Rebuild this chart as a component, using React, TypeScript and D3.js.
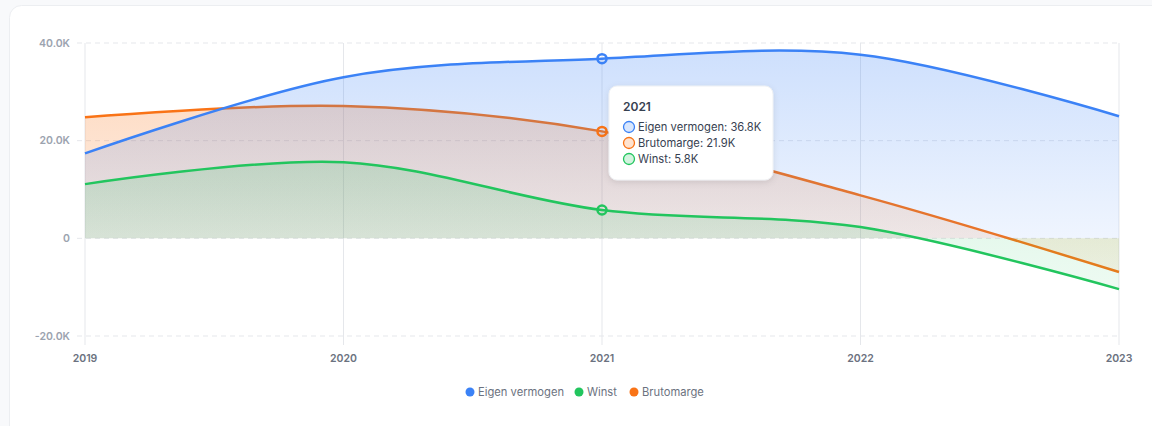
import React from "react";
import * as d3 from "d3";

// DATA
const years = ["2019", "2020", "2021", "2022", "2023"];
const eigenVermogen = [17.4, 33.0, 36.8, 37.6, 25.0];
const brutomarge = [24.8, 27.1, 21.9, 8.8, -6.9];
const winst = [11.1, 15.6, 5.8, 2.3, -10.4];
const yTicks = [-20, 0, 20, 40];

const series = [
  { key: "brutomarge", name: "Brutomarge", values: brutomarge, color: "#f97316", top: 0.24 },
  { key: "eigen", name: "Eigen vermogen", values: eigenVermogen, color: "#3b82f6", top: 0.25 },
  { key: "winst", name: "Winst", values: winst, color: "#22c55e", top: 0.17 },
];
const legendOrder = ["eigen", "winst", "brutomarge"];
const tooltipOrder = ["eigen", "brutomarge", "winst"];
const activeIndex = 2;

const W = 1152;
const H = 426;
const FONT = "Inter, 'Noto Sans', sans-serif";

export default function App() {
  // SCALES
  const x = d3.scalePoint().domain(years).range([85, 1119]);
  const y = d3.scaleLinear().domain([-20, 40]).range([336, 43]);

  const fmt = (v: number) => (v === 0 ? "0" : `${v.toFixed(1)}K`);
  const curve = d3.curveCardinal.tension(0);

  const area = (vals: number[]) =>
    d3
      .area<number>()
      .x((_, i) => x(years[i])!)
      .y0(y(0))
      .y1((d) => y(d))
      .curve(curve)(vals)!;

  const line = (vals: number[]) =>
    d3
      .line<number>()
      .x((_, i) => x(years[i])!)
      .y((d) => y(d))
      .curve(curve)(vals)!;

  const byKey = (k: string) => series.find((s) => s.key === k)!;

  // LEGEND LAYOUT
  const legendItems = legendOrder.map((k) => byKey(k));
  const textW = (s: string) => s.length * 6.0;
  const itemW = legendItems.map((s) => 13 + textW(s.name) + 12);
  const totalW = d3.sum(itemW) - 12;
  let lx = 583.5 - totalW / 2;

  const ax = x(years[activeIndex])!;

  return (
    <div style={{ position: "absolute", left: 0, top: 0, width: W, height: H, background: "#f8f9fb" }}>
      <svg width={W} height={H} style={{ display: "block", fontFamily: FONT }}>
        <defs>
          {series.map((s) => (
            <linearGradient key={s.key} id={`g-${s.key}`} x1="0" y1="0" x2="0" y2="1">
              <stop offset="0%" stopColor={s.color} stopOpacity={s.top} />
              <stop offset="100%" stopColor={s.color} stopOpacity={0.08} />
            </linearGradient>
          ))}
          <filter id="shadow" x="-20%" y="-20%" width="140%" height="150%">
            <feDropShadow dx="0" dy="2" stdDeviation="3" floodColor="#000" floodOpacity="0.1" />
          </filter>
        </defs>

        {/* CARD */}
        <rect x={9.5} y={5.5} width={1160} height={440} rx={12} fill="#fff" stroke="#eceef1" />

        {/* Y GRID */}
        {yTicks.map((t) => (
          <g key={t}>
            <line x1={77} x2={1119} y1={y(t)} y2={y(t)} stroke="#e5e7eb" strokeDasharray="5 4" />
            <text x={70} y={y(t)} dy="0.35em" textAnchor="end" fontSize={10.5} fontWeight={600} fill="#9ca3af">
              {fmt(t)}
            </text>
          </g>
        ))}

        {/* X GRID */}
        {years.map((yr) => (
          <g key={yr}>
            <line x1={x(yr)} x2={x(yr)} y1={43} y2={345} stroke="#e5e7eb" />
            <text x={x(yr)} y={358} dy="0.35em" textAnchor="middle" fontSize={10.5} fontWeight={600} fill="#6b7280">
              {yr}
            </text>
          </g>
        ))}

        {/* AREAS */}
        {series.map((s) => (
          <g key={s.key}>
            <path d={area(s.values)} fill={`url(#g-${s.key})`} />
            <path d={line(s.values)} fill="none" stroke={s.color} strokeWidth={2.5} />
          </g>
        ))}

        {/* ACTIVE DOTS */}
        {series.map((s) => (
          <circle key={s.key} cx={ax} cy={y(s.values[activeIndex])} r={4.5} fill="none" stroke={s.color} strokeWidth={2.5} />
        ))}

        {/* TOOLTIP */}
        <g transform="translate(609,86)">
          <rect width={164} height={94} rx={8} fill="#fff" stroke="#eef0f3" filter="url(#shadow)" />
          <text x={14} y={21} dy="0.35em" fontSize={12} fontWeight={600} fill="#374151">
            {years[activeIndex]}
          </text>
          {tooltipOrder.map((k, i) => {
            const s = byKey(k);
            const ry = 41 + i * 16;
            return (
              <g key={k}>
                <circle cx={20} cy={ry} r={5.5} fill={s.color} fillOpacity={0.2} stroke={s.color} strokeWidth={1.3} />
                <text x={29} y={ry} dy="0.35em" fontSize={11.2} fill="#374151">
                  {`${s.name}: ${s.values[activeIndex].toFixed(1)}K`}
                </text>
              </g>
            );
          })}
        </g>

        {/* LEGEND */}
        {legendItems.map((s, i) => {
          const gx = lx;
          lx += itemW[i];
          return (
            <g key={s.key} transform={`translate(${gx},392)`}>
              <circle cx={5} cy={0} r={4.5} fill={s.color} />
              <text x={13} y={0} dy="0.35em" fontSize={11.2} fill="#6b7280">
                {s.name}
              </text>
            </g>
          );
        })}
      </svg>
    </div>
  );
}
